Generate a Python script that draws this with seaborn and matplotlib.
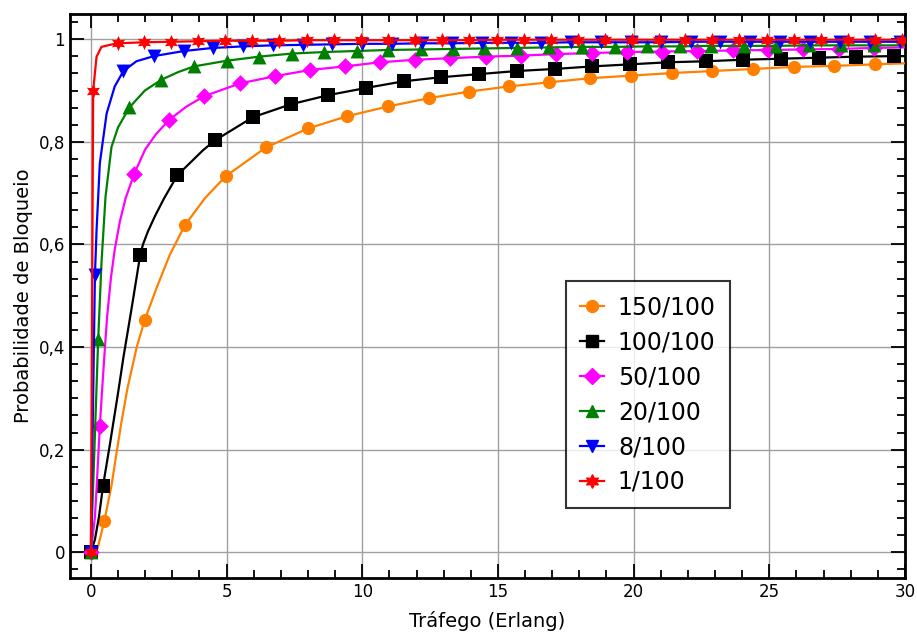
import numpy as np
import pandas as pd
import matplotlib
matplotlib.use('Agg')
import matplotlib.pyplot as plt
from matplotlib.lines import Line2D
from matplotlib.ticker import MultipleLocator, FuncFormatter
import seaborn as sns

# Marker points (traffic in Erlang, blocking probability)
orange_x = [0, 0.5, 1.98, 3.46, 4.97, 6.45, 8.0, 9.45, 10.95, 12.45, 13.95, 15.4, 16.9,
            18.4, 19.9, 21.4, 22.9, 24.4, 25.9, 27.4, 28.9]
orange_y = [0, 0.062, 0.452, 0.637, 0.733, 0.789, 0.826, 0.850, 0.869, 0.885, 0.898,
            0.908, 0.916, 0.924, 0.929, 0.934, 0.938, 0.942, 0.946, 0.948, 0.951]

black_x = [0, 0.45, 1.82, 3.19, 4.58, 5.97, 7.36, 8.75, 10.14, 11.53, 12.92, 14.31, 15.7,
           17.09, 18.48, 19.87, 21.26, 22.65, 24.04, 25.43, 26.82, 28.21, 29.6]
black_y = [0, 0.13, 0.58, 0.735, 0.803, 0.848, 0.873, 0.891, 0.905, 0.918, 0.926, 0.932,
           0.938, 0.942, 0.947, 0.951, 0.955, 0.957, 0.960, 0.962, 0.964, 0.966, 0.967]

magenta_x = [0, 0.33, 1.6, 2.89, 4.18, 5.5, 6.8, 8.07, 9.36, 10.65, 11.95, 13.25, 14.55,
             15.85, 17.15, 18.45, 19.75, 21.05, 22.35, 23.65, 24.95, 26.25, 27.55, 28.85]
magenta_y = [0, 0.246, 0.738, 0.843, 0.889, 0.914, 0.928, 0.940, 0.947, 0.955, 0.960,
             0.963, 0.966, 0.968, 0.971, 0.973, 0.975, 0.976, 0.977, 0.978, 0.979, 0.980,
             0.981, 0.983]

green_x = [0, 0.27, 1.42, 2.6, 3.8, 5.0, 6.2, 7.4, 8.6, 9.8, 10.95, 12.15, 13.35, 14.5,
           15.7, 16.9, 18.1, 19.3, 20.5, 21.7, 22.85, 24.05, 25.25, 26.45, 27.65, 28.85]
green_y = [0, 0.415, 0.867, 0.921, 0.947, 0.958, 0.966, 0.972, 0.975, 0.977, 0.979, 0.980,
           0.981, 0.982, 0.983, 0.984, 0.985, 0.985, 0.986, 0.986, 0.987, 0.987, 0.987,
           0.988, 0.988, 0.988]

blue_x = [0, 0.15, 1.2, 2.32, 3.43, 4.5, 5.6, 6.7, 7.8, 8.9, 10.0, 11.1, 12.2, 13.3, 14.4,
          15.5, 16.6, 17.7, 18.8, 19.9, 21.0, 22.1, 23.2, 24.3, 25.4, 26.5, 27.6, 28.7, 29.8]
blue_y = [0, 0.54, 0.938, 0.967, 0.977, 0.983, 0.986, 0.988, 0.989, 0.990, 0.991, 0.991,
          0.992, 0.992, 0.993, 0.993, 0.993, 0.994, 0.994, 0.994, 0.994, 0.995, 0.995,
          0.995, 0.995, 0.995, 0.995, 0.995, 0.995]

red_x = [0, 0.085, 1.0, 1.95, 2.95, 3.95, 4.95, 5.95, 6.95, 7.95, 8.95, 9.95, 10.95, 11.95,
         12.95, 13.95, 14.95, 15.95, 16.95, 17.95, 18.95, 19.95, 20.95, 21.9, 22.9, 23.9,
         24.9, 25.9, 26.9, 27.9, 28.9, 29.9]
red_y = [0, 0.90, 0.992, 0.994, 0.995, 0.996, 0.997, 0.997, 0.997, 0.998, 0.998, 0.998,
         0.998, 0.998, 0.998, 0.998, 0.999, 0.999, 0.999, 0.999, 0.999, 0.999, 0.999,
         0.999, 0.999, 0.999, 0.999, 0.999, 0.999, 0.999, 0.999, 0.999]

# Extra points along the curves (no marker), read where the lines bend sharply
orange_lx = [0.25, 0.76, 0.95, 1.13, 1.35, 1.69, 2.42, 2.91, 4.2, 30.0]
orange_ly = [0.008, 0.13, 0.195, 0.255, 0.32, 0.40, 0.515, 0.58, 0.69, 0.953]
black_lx = [0.15, 0.3, 0.7, 1.0, 1.2, 1.5, 1.92, 2.1, 2.36, 2.7, 4.14, 30.0]
black_ly = [0.025, 0.07, 0.21, 0.31, 0.38, 0.475, 0.60, 0.625, 0.655, 0.69, 0.784, 0.967]
magenta_lx = [0.15, 0.22, 0.43, 0.52, 0.6, 0.74, 0.88, 1.07, 1.28, 2.0, 2.4, 3.53, 30.0]
magenta_ly = [0.069, 0.134, 0.329, 0.40, 0.46, 0.535, 0.59, 0.645, 0.69, 0.785, 0.815,
              0.869, 0.984]
green_lx = [0.39, 0.54, 0.76, 1.0, 1.99, 3.22, 30.0]
green_ly = [0.563, 0.693, 0.79, 0.828, 0.90, 0.936, 0.988]
blue_lx = [0.21, 0.33, 0.58, 0.88, 1.68, 30.0]
blue_ly = [0.628, 0.758, 0.855, 0.908, 0.957, 0.995]
red_lx = [0.21, 0.39, 0.7, 30.0]
red_ly = [0.966, 0.985, 0.989, 0.999]

labels = ['150/100', '100/100', '50/100', '20/100', '8/100', '1/100']

series = [
    (orange_x, orange_y, orange_lx, orange_ly, '#ff8000', 'o', 9.5),
    (black_x, black_y, black_lx, black_ly, '#000000', 's', 9.5),
    (magenta_x, magenta_y, magenta_lx, magenta_ly, '#ff00ff', 'D', 8.5),
    (green_x, green_y, green_lx, green_ly, '#008000', '^', 10),
    (blue_x, blue_y, blue_lx, blue_ly, '#0000ff', 'v', 10),
    (red_x, red_y, red_lx, red_ly, '#ff0000', (6, 1, 0), 11),
]

plt.rcParams['font.family'] = ['DejaVu Sans']
fig = plt.figure(figsize=(9.17, 6.39), dpi=100)
ax = fig.add_axes([0.0763, 0.0955, 0.9106, 0.8825])

handles = []
for i, (mx, my, lx, ly, color, marker, ms) in enumerate(series):
    line = pd.DataFrame({'x': mx + lx, 'y': my + ly}).sort_values('x')
    pts = pd.DataFrame({'x': mx, 'y': my})
    sns.lineplot(data=line, x='x', y='y', ax=ax, color=color, lw=1.6,
                 sort=False, estimator=None, zorder=3 + 2 * i)
    sns.scatterplot(data=pts, x='x', y='y', ax=ax, color=color, marker=marker,
                    s=ms ** 2, linewidth=0, zorder=4 + 2 * i)
    handles.append(Line2D([], [], color=color, lw=1.6, marker=marker, ms=ms * 0.9,
                          mec=color))

ax.set_xlim(-0.77, 30)
ax.set_ylim(-0.05, 1.049)
ax.xaxis.set_major_locator(MultipleLocator(5))
ax.xaxis.set_minor_locator(MultipleLocator(1))
ax.yaxis.set_major_locator(MultipleLocator(0.2))
ax.yaxis.set_minor_locator(MultipleLocator(0.2 / 6))
ax.yaxis.set_major_formatter(FuncFormatter(lambda v, p: f'{v:g}'.replace('.', ',')))
ax.tick_params(which='both', direction='in', top=True, right=True, labelsize=12,
               width=1.3)
ax.tick_params(which='major', length=10)
ax.tick_params(which='minor', length=6)
ax.grid(True, which='major', color='#a0a0a0', lw=1)
ax.set_axisbelow(True)
for sp in ax.spines.values():
    sp.set_linewidth(2)

ax.set_xlabel('Tráfego (Erlang)', fontsize=14, labelpad=7)
ax.set_ylabel('Probabilidade de Bloqueio', fontsize=14, labelpad=4)

leg = ax.legend(handles, labels, loc='lower left', bbox_to_anchor=(0.594, 0.124),
                borderaxespad=0, fontsize=17, frameon=True, fancybox=False,
                handlelength=1.0, handletextpad=0.6, labelspacing=0.46, borderpad=0.6)
leg.get_frame().set_edgecolor('black')
leg.get_frame().set_linewidth(1.5)
leg.set_zorder(20)

fig.savefig('out.png', dpi=100)
